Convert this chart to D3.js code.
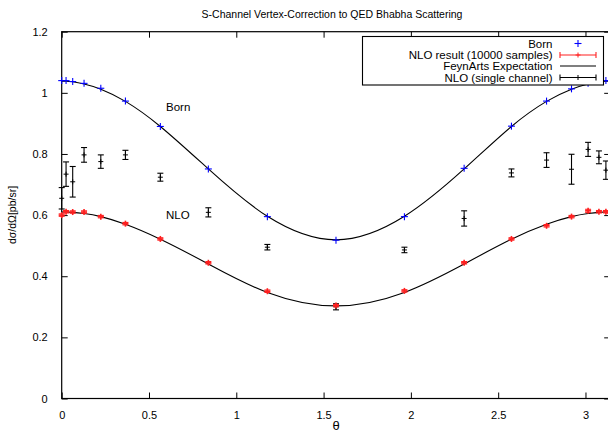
<!DOCTYPE html>
<html>
<head>
<meta charset="utf-8">
<script src="https://cdn.jsdelivr.net/npm/d3@7"></script>
<style>
	body { margin: 0; background: #fff; }
	svg { display: block; font-family: "Liberation Sans", Arial, Helvetica, sans-serif; }
</style>
</head>
<body>
<svg id="container" width="608" height="435"></svg>
<script>
// scattering angles of the sample points
const theta = [0.0, 0.025, 0.063, 0.128, 0.224, 0.365, 0.565, 0.84, 1.178, 1.571,
	1.963, 2.305, 2.576, 2.777, 2.92, 3.015, 3.077, 3.117, 3.141];

// Born points
const born = [1.040, 1.040, 1.037, 1.031, 1.015, 0.973, 0.890, 0.751, 0.595, 0.518,
	0.595, 0.753, 0.891, 0.973, 1.013, 1.031, 1.039, 1.040, 1.040];

// NLO result (10000 samples)
const nlo = [0.600, 0.611, 0.610, 0.610, 0.595, 0.572, 0.522, 0.444, 0.351, 0.304,
	0.352, 0.444, 0.522, 0.565, 0.595, 0.614, 0.611, 0.611, 0.610];
const nloErr = [0.004, 0.004, 0.004, 0.004, 0.004, 0.004, 0.004, 0.004, 0.004, 0.004,
	0.004, 0.004, 0.004, 0.004, 0.004, 0.005, 0.004, 0.004, 0.004];

// NLO (single channel)
const single = [0.655, 0.734, 0.709, 0.797, 0.775, 0.797, 0.724, 0.609, 0.495, 0.300,
	0.486, 0.589, 0.738, 0.780, 0.750, 0.815, 0.789, 0.747, null];
const singleErr = [0.035, 0.04, 0.05, 0.024, 0.022, 0.015, 0.013, 0.015, 0.009, 0.01,
	0.009, 0.025, 0.013, 0.024, 0.049, 0.023, 0.021, 0.03, null];

// FeynArts expectation curves
const bornCurve = [1.038, 1.038, 1.036, 1.029, 1.012, 0.972, 0.890, 0.751, 0.596, 0.519,
	0.596, 0.751, 0.890, 0.972, 1.012, 1.029, 1.036, 1.038, 1.038];
const nloCurve = [0.610, 0.610, 0.609, 0.605, 0.595, 0.570, 0.521, 0.440, 0.347, 0.303,
	0.347, 0.440, 0.521, 0.570, 0.595, 0.605, 0.609, 0.610, 0.610];

const xTicks = [0, 0.5, 1, 1.5, 2, 2.5, 3];
const yTicks = [0, 0.2, 0.4, 0.6, 0.8, 1, 1.2];

const svg = d3.select("#container");

// plot area (right border falls just outside the window)
const pLeft = 61.7, pRight = 610.2, pTop = 31.7, pBottom = 398.5;

const x = d3.scaleLinear().domain([0, Math.PI]).range([pLeft, pRight]);
const y = d3.scaleLinear().domain([0, 1.2]).range([pBottom, pTop]);

// title
svg.append("text")
	.attr("x", 332).attr("y", 18)
	.attr("text-anchor", "middle")
	.attr("font-size", 10.5)
	.text("S-Channel Vertex-Correction to QED Bhabha Scattering");

// axes with inward ticks, mirrored on the opposite side
const tickLen = 6;
const gx = svg.append("g").attr("transform", "translate(0," + pBottom + ")")
	.call(d3.axisBottom(x).tickValues(xTicks).tickSize(-tickLen).tickPadding(tickLen + 7).tickFormat(d3.format("")));
const gxTop = svg.append("g").attr("transform", "translate(0," + pTop + ")")
	.call(d3.axisTop(x).tickValues(xTicks).tickSize(-tickLen).tickFormat(""));
const gy = svg.append("g").attr("transform", "translate(" + pLeft + ",0)")
	.call(d3.axisLeft(y).tickValues(yTicks).tickSize(-tickLen).tickPadding(tickLen + 8).tickFormat(d3.format("")));
const gyRight = svg.append("g").attr("transform", "translate(" + pRight + ",0)")
	.call(d3.axisRight(y).tickValues(yTicks).tickSize(-tickLen).tickFormat(""));

[gx, gxTop, gy, gyRight].forEach(g => {
	g.select(".domain").remove();
	g.selectAll(".tick line").attr("stroke", "#000");
	g.selectAll(".tick text").attr("font-size", 11).attr("fill", "#000")
		.attr("font-family", "Liberation Sans, Arial, sans-serif");
});

// border
svg.append("rect")
	.attr("x", pLeft).attr("y", pTop)
	.attr("width", pRight - pLeft).attr("height", pBottom - pTop)
	.attr("fill", "none").attr("stroke", "#000").attr("stroke-width", 1.2);

// axis labels
svg.append("text")
	.attr("x", 336).attr("y", 430)
	.attr("text-anchor", "middle")
	.attr("font-size", 13)
	.text("θ");

svg.append("text")
	.attr("transform", "translate(16,215) rotate(-90)")
	.attr("text-anchor", "middle")
	.attr("font-size", 10.5)
	.text("dσ/dΩ[pb/sr]");

// curve labels
svg.append("text").attr("x", 166).attr("y", 111).attr("font-size", 11.5).text("Born");
svg.append("text").attr("x", 166).attr("y", 219).attr("font-size", 11.5).text("NLO");

// expectation curves
const line = d3.line()
	.x((d, i) => x(theta[i]))
	.y(d => y(d))
	.curve(d3.curveNatural);

[bornCurve, nloCurve].forEach(c => {
	svg.append("path")
		.attr("d", line(c))
		.attr("fill", "none")
		.attr("stroke", "#000")
		.attr("stroke-width", 1.1);
});

function plus(g, cx, cy, s, color, w) {
	g.append("line").attr("x1", cx - s).attr("x2", cx + s).attr("y1", cy).attr("y2", cy)
		.attr("stroke", color).attr("stroke-width", w);
	g.append("line").attr("x1", cx).attr("x2", cx).attr("y1", cy - s).attr("y2", cy + s)
		.attr("stroke", color).attr("stroke-width", w);
}

function errbar(g, cx, yv, e, color, cap) {
	const y1 = y(yv + e), y2 = y(yv - e);
	g.append("line").attr("x1", cx).attr("x2", cx).attr("y1", y1).attr("y2", y2)
		.attr("stroke", color).attr("stroke-width", 1.1);
	[y1, y2].forEach(yy => {
		g.append("line").attr("x1", cx - cap).attr("x2", cx + cap).attr("y1", yy).attr("y2", yy)
			.attr("stroke", color).attr("stroke-width", 1.1);
	});
}

// single channel NLO points
const gs = svg.append("g");
theta.forEach((t, i) => {
	if (single[i] === null) return;
	errbar(gs, x(t), single[i], singleErr[i], "#000", 3);
	plus(gs, x(t), y(single[i]), 2.5, "#000", 1);
});

// NLO result points
const gn = svg.append("g");
theta.forEach((t, i) => {
	errbar(gn, x(t), nlo[i], nloErr[i], "#ff2020", 3);
	plus(gn, x(t), y(nlo[i]), 3, "#ff2020", 1.6);
});

// Born points
const gb = svg.append("g");
theta.forEach((t, i) => {
	plus(gb, x(t), y(born[i]), 3.5, "#0000ff", 1.1);
});

// legend
const lg = svg.append("g");
lg.append("rect")
	.attr("x", 362.5).attr("y", 36.5).attr("width", 241).attr("height", 48.5)
	.attr("fill", "#fff").attr("stroke", "#000").attr("stroke-width", 1.1);

const legendItems = ["Born", "NLO result (10000 samples)", "FeynArts Expectation", "NLO (single channel)"];
const rowY = [43.5, 55, 66, 77.5];
const sx1 = 560, sx2 = 596, sxm = 578;

legendItems.forEach((label, i) => {
	lg.append("text")
		.attr("x", 552.5).attr("y", rowY[i] + 4)
		.attr("text-anchor", "end")
		.attr("font-size", 11.5)
		.text(label);
});

plus(lg, sxm, rowY[0], 3.5, "#0000ff", 1.1);

[["#ff2020", rowY[1]], ["#000", rowY[3]]].forEach(([c, ry]) => {
	lg.append("line").attr("x1", sx1).attr("x2", sx2).attr("y1", ry).attr("y2", ry)
		.attr("stroke", c).attr("stroke-width", 1.1);
	[sx1, sx2].forEach(xx => {
		lg.append("line").attr("x1", xx).attr("x2", xx).attr("y1", ry - 3).attr("y2", ry + 3)
			.attr("stroke", c).attr("stroke-width", 1.1);
	});
	plus(lg, sxm, ry, 2.5, c, 1);
});

lg.append("line").attr("x1", sx1).attr("x2", sx2).attr("y1", rowY[2]).attr("y2", rowY[2])
	.attr("stroke", "#000").attr("stroke-width", 1.1);
</script>
</body>
</html>
